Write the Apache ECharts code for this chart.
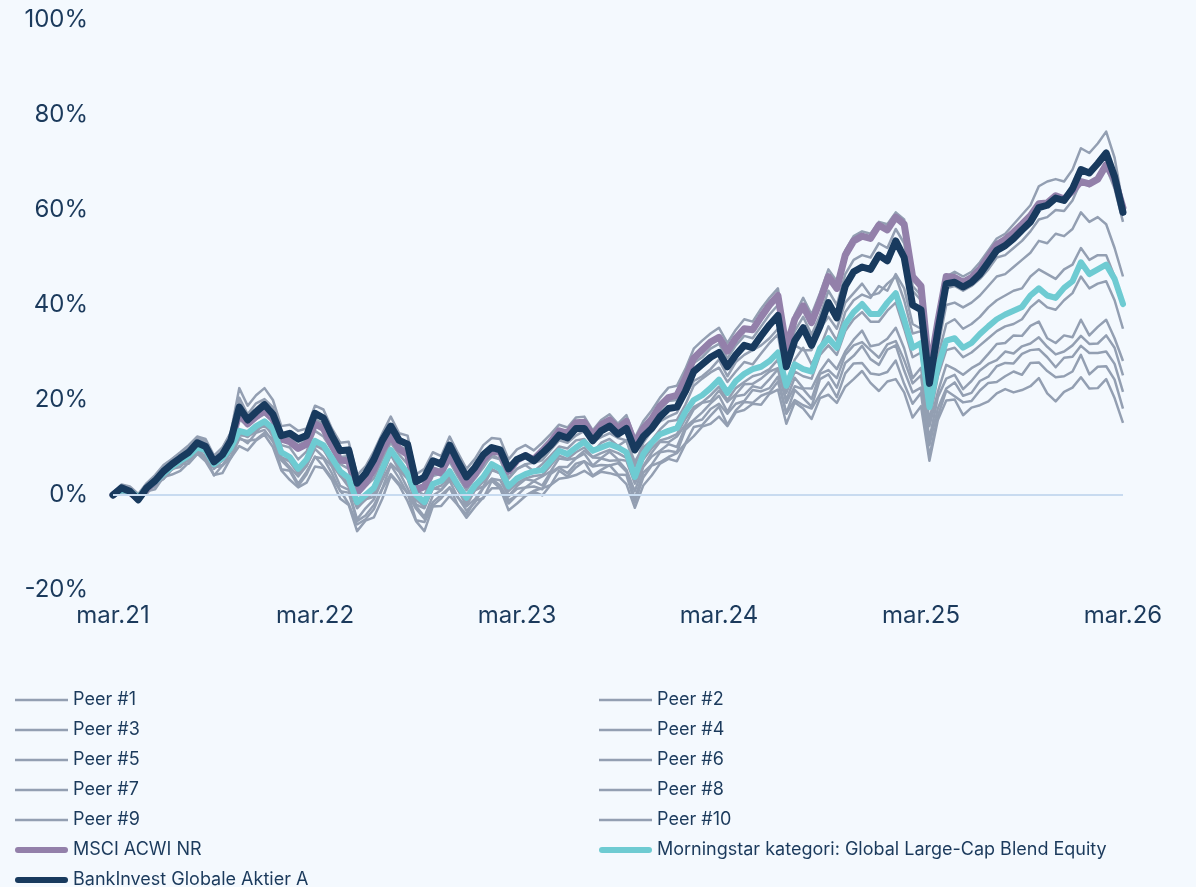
<!DOCTYPE html>
<html>
<head>
<meta charset="utf-8">
<script src="https://cdn.jsdelivr.net/npm/echarts@6/dist/echarts.min.js"></script>
<style>
html,body{margin:0;padding:0;background:#f4f9fe;}
#chart{width:1196px;height:887px;}
</style>
</head>
<body>
<div id="chart"></div>
<script>
// half-month steps from mar.21 (index 0) to mar.26 (index 120)
const tickLabels = ['mar.21','mar.22','mar.23','mar.24','mar.25','mar.26'];

const bankInvest = [0,1.5,0.8,-1,1.5,3,5,6.5,7.8,9,
11,10.2,7,8.5,11.5,18.5,15.8,17.5,19,17,
12.5,13,11.8,12.5,17.2,16.2,12.5,9.3,9.5,2.5,
4.5,7.5,11.5,14.5,11.5,10.7,2.8,3.8,7.2,6.5,
10.5,7,3.8,5.8,8.5,10,9.5,5.5,7.5,8.3,
7.2,8.8,10.5,12.6,12,14,14,11.4,13.5,14.5,
12.8,14,9.5,12.3,14,16.5,18.2,18.5,21.8,26,
27.5,29,30,27,29.5,31.5,31,33.5,35.8,37.8,
27,32.5,35.2,31.5,35.5,40.5,37.3,44,47,48,
47.5,50.5,49.3,53.5,50,40,39,23.5,34.5,44.5,
44.8,43.8,44.8,46.5,49,51.5,52.5,54,55.8,57.5,
60.5,61,62.5,62,64.5,68.5,67.8,69.8,72,67,
59.5];

const msciAcwi = [0,1.3,0.6,-0.8,1.3,2.8,4.8,6.3,7.5,8.7,
10.6,9.9,6.8,8.2,11,17.2,15,16.5,17.8,16,
11.8,11.2,9.8,10.7,15,14,10.5,7.3,7.2,0.5,
2.5,5.5,9.5,12.5,9.7,8.5,1,1.8,5.2,4.6,
8.5,5.3,2.2,4.3,7.5,9.2,9,5,7.3,8.3,
7.5,9.3,11.2,13.5,13,15.2,15.3,12.5,14.8,15.8,
14,15.5,10.8,14,16,18.8,20.5,21,24.5,28.8,
30.5,32.2,33.2,30.3,33,35,34.8,37.5,40,42,
31,37,39.8,36.3,40.8,46,43.5,50.5,53.5,54.5,
54,56.8,55.8,58.5,57,46,44,26,36.5,46,
45.8,44.8,45.8,47.5,50.2,52.7,53.8,55.3,57,58.8,
61.3,61.5,63,62.3,64,66,65.5,66.5,69.5,66.5,
60.5];

const morningstar = [0,1,0.8,-0.5,1.5,2.8,4.5,6,7.2,8.3,
10,9.5,6.5,7.8,10,13.5,13,14.5,15.5,14,
9,8,5.5,7.5,11.4,10.5,7.8,5,3.6,-1.5,
0,1.5,5.5,9.5,7,4.5,0,-1.5,2.3,3,
5,2,-0.6,2,3.8,6.5,5.5,1.8,3.5,4.4,
5,5.2,7.2,9.3,8.6,10,11.2,9.3,10,10.7,
10,9,3.8,8.6,11,12.8,13.5,14.1,17.5,20,
21,22.5,24.3,21.5,24,25.5,26.5,27,28.2,30,
23,27.5,26.5,26,30.9,33,31,36,38.5,40.2,
38.1,38.1,40.5,42.5,37,31,32,18.5,27,32.5,
33,31,32,33.9,35.5,37,38,38.8,39.6,42,
43.5,42,41.5,43.6,45,49,46.5,47.5,48.5,45.5,
40.2];

const peer1 = [0.3,2.2,1.8,0.2,2.5,4.2,6.3,7.6,9,10.5,
12.3,11.8,8.3,10,13.2,22.5,18.8,21,22.5,20,
14.5,14.8,13.5,14,18.8,18,14,11,11.2,4.2,
6,9.2,13,16.5,13,12.5,4.3,5.5,9,8.2,
12.3,8.8,5.5,7.6,10.5,12,11.8,7.5,9.6,10.5,
9.4,11,12.8,14.8,14.2,16.3,16.5,13.6,15.8,17,
15,16.8,12,15.5,17.8,20.5,22.6,23,26.5,30.8,
32.5,34,35.2,32,34.8,37,36.5,39.2,41.5,43.5,
32,38,41.5,38,42.5,47.5,45,51.5,54.5,55.5,
55,57.5,57,59.5,58,44,42,24.5,36,46,
47,46,47,49,51.5,54,55,57,59,61,
65,66,66.5,66,68.5,73,72,74,76.5,71,
61];

const peer2 = [0,2,1.2,-0.5,2.2,3.5,5.8,7,8.5,9.8,
11.8,11,7.5,9.2,12.5,19.5,16.5,18.2,19.8,17.5,
12,12,10.5,11.5,16,15,11.5,8,8.2,1.5,
3.2,6.3,10.2,13.2,10.3,9.5,1.7,2.2,5.8,5.2,
9,5.5,2,4,6.5,8,7.5,3.5,5.5,6.3,
5,6.5,8.3,10.2,9.8,11.5,11.8,9,11,11.8,
10.3,11.5,7,10,11.5,13.8,15.5,15.8,19,23,
24.5,25.8,26.8,23.8,26,28,27.5,29.8,32,33.8,
23.5,28.5,31,27.5,31,35.5,32.5,38.5,41,42.2,
41.5,44,43,46.5,43.5,36,35,24,31,40,
40.5,39.5,40.5,42,44,46,46.5,48,49.5,51,
53.5,53,55,54.5,56,59.5,57.5,58.5,57,52,
46];

const peer3 = [0.2,1.6,1.2,0,2,3.5,5.2,7,8,9.2,
11,10.5,7.2,8.8,11.5,16,14.5,16,17,15.5,
10.5,10,7.5,9.2,13.5,12.3,9.5,6.5,5.5,0,
1.8,3.5,7.5,11,8.5,6.5,1,0,4,4.5,
7,3.8,1,3.5,5.8,8.5,7.5,3.5,5.5,6.5,
6.8,7.3,9.5,11.5,11,12.5,13.5,11.3,12.2,13,
12,11.5,6,11,13.5,15.5,16.5,17.3,21,24,
25,26.5,28.5,25,28,29.5,30.5,31.5,33,35,
27,31.5,30.5,30.5,35,37.5,35,40.5,42.5,44.5,
42,42.5,44.5,46,41,34,34.5,19,29,36,
37,35,36,37.5,39.5,41,42,43,43.5,46,
47.5,46.5,45.5,47.5,48.5,52,49.5,50.5,50.5,46,
40.5];

const peer4 = [-0.2,0.8,0.5,-1,1,2.5,4,5.5,6.8,7.8,
9.5,9,5.8,7.2,9.5,13,12.2,13.8,14.5,13,
8,7,4.5,6.5,10.5,9.5,6.8,4,2.5,-2.5,
-1,0.5,4.5,8.5,6,3.5,-1,-2.5,1.3,2,
4,1,-1.5,1,2.8,5.5,4.5,0.8,2.5,3.5,
4,4.2,6.2,8.3,7.6,9,10,8,8.8,9.5,
8.8,7.8,2.8,7.5,9.8,11.5,12,12.8,16,18.5,
19.5,21,22.8,20,22.5,23.8,25,25.5,26.5,28.5,
21.5,26,25,24.5,29.5,31.5,29.5,34.5,37,38.5,
36.5,36.5,38.8,40.5,35,29,30,15.5,25,30.5,
31,29,30,31.5,33,34.5,35.5,36,37,39.5,
41,39.5,39,41,42.5,46,43.5,44.5,45,41,
35];

const peer5 = [0,1.5,0.4,-0.3,0.8,2.8,4.8,5.3,6.8,8.4,
9.2,9.4,5.5,7.5,10.1,12.6,12.5,14.5,14.7,13.8,
7.8,7.4,5.2,6.2,10.4,9.9,6.3,4.1,1.7,-2.8,
-0.9,-0.4,4,8.5,5.2,3.4,-2,-2.8,1.4,1.1,
3.6,1.1,-2.3,1,1.8,5.2,4.6,-0.2,1.9,3.3,
3,3.9,5,7.7,7.4,7.8,9.3,7.9,7.8,9.1,
7.5,7.2,2.4,6.1,8.9,11.2,11.1,12.3,14.8,18,
19.4,19.8,22,19.6,21.2,23.3,23.4,24.5,26,26.7,
20,24.7,22.5,22.4,26,28.5,26.5,30.2,32.7,34.6,
31.3,31.7,32.9,35.2,30.9,24.6,26.8,14.5,21.7,27.4,
26.5,25.3,26.7,27.7,29.7,31.8,32,33.6,33.5,35.6,
36.5,33,32,33.6,33.2,36.9,33.6,35.4,36.9,33,
28.2];

const peer6 = [0,0.7,1.2,-1.3,1.4,1.7,4,5.8,6.8,7.2,
9.6,8,5.8,6.2,9.1,13,12.4,13.3,15.1,12.3,
7.9,5.9,3.9,6.1,9.7,8,6,1.9,1.1,-5.1,
-2.8,-0.9,3.1,6.6,4.9,1.4,-2.3,-4.6,-0.1,1,
3,-0.6,-2.4,-0.9,1.6,3.4,3.1,-0.3,1.3,1.6,
2.9,2,4.8,5.9,5.9,7.7,8.7,6.2,7.7,7.2,
7.3,5.3,0.8,5.9,8.1,9.3,10.7,10.1,14.3,15.8,
17.4,19.3,20.9,17.5,20.8,21.1,22.9,22.5,24.4,26.5,
19.4,22.9,22.3,20.2,25.5,26.3,24.6,29.5,31.5,32.2,
30.5,28.9,31.7,32.4,28.4,23.5,25.2,11.8,20.6,24.5,
25.3,22.3,24,26.2,27.6,28.4,30.2,29.8,31.3,31.9,
33.2,31.2,29.6,30.2,31.5,33.5,31.8,31.9,33.6,31,
25.2];

const peer7 = [0,1.4,0.8,-1.5,1.7,2.2,3.4,5.5,5.9,7.7,
9,7.6,5.8,6.3,8,12.1,10.9,13.1,13.7,11.2,
7.3,5.5,2.4,4.9,8,7.7,4.6,0.8,0.5,-5.5,
-4.3,-2.1,1.4,6.3,3.5,0.3,-2.9,-5,-1.5,0,
1.6,-0.5,-3.3,-1.6,1.5,3.4,2,-1.1,-0.1,1.6,
1.8,1.2,4.4,5.7,4.6,6.6,7.1,6,6.3,6.2,
6.7,4.9,-0.7,4.7,6.4,9,9.3,9,13.7,15.4,
15.9,18.1,19.2,17.1,19.2,19.8,22.1,21.8,22.5,24.9,
17.2,22.1,20.4,18.6,24.4,25.4,22.6,27.8,29.3,31.4,
28.6,27.4,30.6,31.5,26.2,21.6,22.6,10.5,18.2,22.4,
23.7,20.9,21.5,24,24.9,27.1,27.8,27.7,29.7,30.5,
30.7,29,26.9,28.9,29.1,31.4,29.9,29.9,30.2,27.6,
21.7];

const peer8 = [0,0.5,0.6,-0.5,0.2,2.4,3.4,5.4,6.6,6.6,
8.6,8.4,4.1,6.2,7.8,11.8,11.4,11.7,13.1,11.8,
5.4,5.1,1.9,4.3,8.1,6,3.6,1,-1.9,-6.2,
-5.1,-3,1.3,4.4,2.4,0.4,-5.3,-5.7,-2.2,-0.7,
1.6,-2.2,-4.1,-1.2,-0.7,3,1.4,-1.8,0,-0.1,
0.9,1.4,2.1,5.1,3.9,5.8,7.1,4.1,5.3,6.3,
4.3,4.2,-1.6,3.7,6.2,6.9,8,8.8,10.9,14.3,
14.7,16.7,18.6,14.8,17.8,19.6,19.4,20.9,21.6,23.9,
17.1,20,18.9,18.2,21.2,23.7,20.6,25.6,27.7,27.8,
25.6,25.3,25.9,28.3,23.4,19.2,21.5,8.1,16.6,22,
20.8,19.5,19.8,22,23.6,23.8,25,26,25.3,27.8,
27.9,26.1,24.8,25,26,29.5,25.4,27,27.1,24.3,
18.2];

const peer9 = [0,1.1,1.1,-1.3,0.8,1.2,3.8,4.3,5.1,6.8,
8.7,7.1,4.2,4.6,7.8,10.3,9.4,11.5,12.7,10.1,
5.2,3.2,1.6,2.6,6,5.7,3.2,-0.8,-2.1,-7.6,
-5.4,-4.7,-0.8,4.1,2,-1.3,-5.5,-7.6,-2.4,-2.3,
-0.2,-2.2,-4.8,-2.5,-0.5,1.4,1.4,-3.2,-1.8,-0.2,
0.7,-0.1,2.1,3.4,3.7,4.2,5.1,3.9,4.9,4.6,
4.1,2.3,-2.7,2,4.1,6.6,7.6,7.1,10.7,12.4,
14.4,15,16.5,14.5,17.4,17.9,19.2,19,21.3,22.2,
15,19.5,18.2,16,20.4,21.1,19.4,22.8,24.4,26.1,
23.6,21.9,23.9,24.4,21.6,16.3,18.7,7.2,15.8,19.9,
20.1,16.8,18.4,18.9,19.7,21.4,22.3,21.6,22.1,22.9,
24.6,21.4,19.7,21.7,22.6,24.8,22.4,22.5,24.4,20.4,
15.2];

const peer10 = [0,1,1.6,0,2,3.8,5.5,7.5,8.8,10,
12,11.5,8,9.8,13,20.5,17,19.3,20.2,18.5,
13,12.5,11.2,12,16.5,15.8,12,9,8.7,1.8,
4,7,11,14,11.2,10,2.5,3,6.8,6,
10,6.5,3.5,5.2,8,9.6,9,5.2,7,8,
6.8,8.3,10,12,11.8,13.5,13.4,11,13.2,14,
12.3,14.5,10.5,13.5,15.5,18,19.8,20,23.5,27.8,
29,30.8,31.8,28.8,31.5,33.5,33,35.5,38,40,
29,34.5,37.5,33.8,37.8,43,40,46.5,49.5,50.5,
50,53,52,56,53,43,41,22,33,43.5,
44,43,44,45.5,47.5,50,50.5,52,53.5,55.5,
58,58.5,60,59.8,62,66,65,67,69,64.5,
57.5];

const peerNames = ['Peer #1','Peer #2','Peer #3','Peer #4','Peer #5','Peer #6','Peer #7','Peer #8','Peer #9','Peer #10'];
const peerValues = [peer1, peer2, peer3, peer4, peer5, peer6, peer7, peer8, peer9, peer10];
const msciName = 'MSCI ACWI NR';
const msName = 'Morningstar kategori: Global Large-Cap Blend Equity';
const bankName = 'BankInvest Globale Aktier A';

const TEXT = '#1b3a5c';
const GRAY = '#939fb2';
const PURPLE = '#9380aa';
const TEAL = '#6ecbd2';
const NAVY = '#183a5e';
const FONT = 'Inter';

const toPairs = arr => arr.map((v, i) => [i, v]);

const series = [];
peerValues.forEach((vals, k) => {
  const s = {
    name: peerNames[k], type: 'line', data: toPairs(vals),
    showSymbol: false, symbol: 'none', silent: true,
    lineStyle: { color: GRAY, width: 2.5, join: 'round' }, itemStyle: { color: GRAY }
  };
  if (k === 0) {
    s.markLine = {
      silent: true, symbol: 'none', label: { show: false },
      lineStyle: { color: '#c8dbf0', width: 2, type: 'solid' },
      data: [{ yAxis: 0 }]
    };
  }
  series.push(s);
});
series.push({
  name: msciName, type: 'line', data: toPairs(msciAcwi), showSymbol: false, symbol: 'none', silent: true,
  lineStyle: { color: PURPLE, width: 7, cap: 'round', join: 'round' }, itemStyle: { color: PURPLE }
});
series.push({
  name: msName, type: 'line', data: toPairs(morningstar), showSymbol: false, symbol: 'none', silent: true,
  lineStyle: { color: TEAL, width: 6, cap: 'round', join: 'round' }, itemStyle: { color: TEAL }
});
series.push({
  name: bankName, type: 'line', data: toPairs(bankInvest), showSymbol: false, symbol: 'none', silent: true,
  lineStyle: { color: NAVY, width: 7, cap: 'round', join: 'round' }, itemStyle: { color: NAVY }
});

const THIN_ICON = 'path://M0,0H53V2.5H0Z';
const THICK_ICON = 'path://M3,0H50A3,3 0 0 1 50,6H3A3,3 0 0 1 3,0Z';
const mainNames = [msciName, msName, bankName];
const legendItems = names => names.map(n => ({
  name: n, icon: mainNames.includes(n) ? THICK_ICON : THIN_ICON
}));
const leftNames = ['Peer #1','Peer #3','Peer #5','Peer #7','Peer #9', msciName, bankName];
const rightNames = ['Peer #2','Peer #4','Peer #6','Peer #8','Peer #10', msName];
const legendText = { fontSize: 18, color: TEXT, fontFamily: FONT };
const legendBase = {
  orient: 'vertical', top: 686, height: 260, itemWidth: 53, itemHeight: 14, itemGap: 12,
  selectedMode: false, textStyle: legendText, itemStyle: { borderWidth: 0 }, symbolKeepAspect: true
};

const chart = echarts.init(document.getElementById('chart'), null, { renderer: 'canvas' });
chart.setOption({
  backgroundColor: '#f4f9fe',
  animation: false,
  grid: { left: 113, right: 73, top: 20, bottom: 297, containLabel: false },
  xAxis: {
    type: 'value', min: 0, max: 120, interval: 24,
    axisLine: { show: false }, axisTick: { show: false }, splitLine: { show: false },
    axisLabel: {
      margin: 14, fontSize: 24, color: TEXT, fontFamily: FONT,
      formatter: v => tickLabels[Math.round(v / 24)] || ''
    }
  },
  yAxis: {
    type: 'value', min: -20, max: 100, interval: 20,
    axisLine: { show: false }, axisTick: { show: false }, splitLine: { show: false },
    axisLabel: { margin: 25, fontSize: 24, color: TEXT, fontFamily: FONT, formatter: '{value}%' }
  },
  legend: [
    Object.assign({}, legendBase, { left: 10, data: legendItems(leftNames) }),
    Object.assign({}, legendBase, { left: 594, data: legendItems(rightNames) })
  ],
  series: series
});
</script>
</body>
</html>
